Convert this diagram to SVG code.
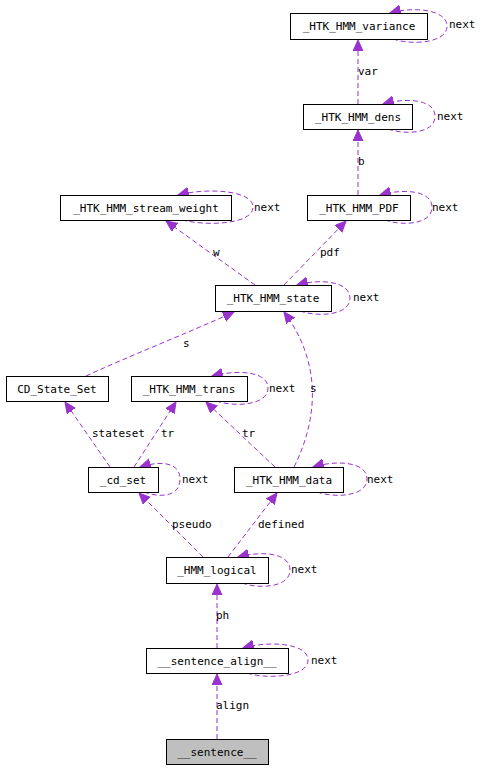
<svg xmlns="http://www.w3.org/2000/svg" width="483" height="769" viewBox="0 0 483 769">
<style>
text{font-family:"DejaVu Sans Mono","Liberation Mono",monospace;font-size:11px;fill:#000}
.n rect{fill:#fff;stroke:#000;stroke-width:1}
.n text{text-anchor:middle}
.e path{fill:none;stroke:#9a32cd;stroke-width:1;stroke-dasharray:5,3;marker-end:url(#ah)}
</style>
<defs>
<marker id="ah" markerUnits="userSpaceOnUse" markerWidth="14" markerHeight="12" refX="11" refY="5" orient="auto" viewBox="0 0 14 12">
<path d="M0,0 L11,5 L0,10 z" fill="#9a32cd" stroke="#9a32cd" stroke-width="1"/>
</marker>
</defs>
<rect width="483" height="769" fill="#fff"/>
<g id="edges" class="e">
<path d="M358,104 L358,40"/>
<path d="M358,195 L358,130"/>
<path d="M255,285 L166,221"/>
<path d="M284,285 L346,221"/>
<path d="M86,376 C120,360 190,332 234,312"/>
<path d="M294,467 C320,415 320,360 284,312"/>
<path d="M110,467 L65,402"/>
<path d="M134,467 L176,402"/>
<path d="M275,467 L206,402"/>
<path d="M203,557 L139,493"/>
<path d="M228,557 L277,493"/>
<path d="M217,648 L217,584"/>
<path d="M217,739 L217,674"/>
<path d="M393,39 C410,45 447,44 447,26 C447,10 415,6 390,13"/>
<path d="M388,129 C405,135 435,134 435,116 C435,100 408,97 383,104"/>
<path d="M182,220 C205,226 253,225 253,207 C253,191 210,187 178,195"/>
<path d="M385,220 C402,226 432,225 432,207 C432,191 405,188 380,195"/>
<path d="M300,311 C317,317 350,316 350,298 C350,282 322,278 297,285"/>
<path d="M216,401 C233,407 268,406 268,388 C268,372 240,369 212,376"/>
<path d="M144,492 C160,498 180,497 180,479 C180,463 162,460 140,467"/>
<path d="M317,492 C334,498 367,497 367,479 C367,463 340,459 313,467"/>
<path d="M242,583 C258,589 290,588 290,570 C290,554 265,550 238,557"/>
<path d="M247,673 C264,679 308,678 308,660 C308,644 272,640 243,648"/>
</g>
<g id="labels">
<text x="358" y="75">var</text>
<text x="358" y="165">b</text>
<text x="213" y="256">w</text>
<text x="320" y="256">pdf</text>
<text x="183" y="347">s</text>
<text x="310" y="392">s</text>
<text x="92" y="437">stateset</text>
<text x="161" y="437">tr</text>
<text x="242" y="437">tr</text>
<text x="172" y="528">pseudo</text>
<text x="258" y="528">defined</text>
<text x="216" y="619">ph</text>
<text x="216" y="709">align</text>
<text x="449" y="28">next</text>
<text x="437" y="120">next</text>
<text x="254" y="211">next</text>
<text x="432" y="211">next</text>
<text x="353" y="301">next</text>
<text x="269" y="392">next</text>
<text x="182" y="483">next</text>
<text x="367" y="483">next</text>
<text x="291" y="573">next</text>
<text x="311" y="664">next</text>
</g>
<g id="n_variance" class="n"><rect x="290.5" y="13.5" width="137" height="26"/><text x="359" y="30">_HTK_HMM_variance</text></g>
<g id="n_dens" class="n"><rect x="303.5" y="104.5" width="109" height="25"/><text x="358" y="121">_HTK_HMM_dens</text></g>
<g id="n_stream_weight" class="n"><rect x="60.5" y="195.5" width="171" height="25"/><text x="146" y="212">_HTK_HMM_stream_weight</text></g>
<g id="n_pdf" class="n"><rect x="307.5" y="195.5" width="103" height="25"/><text x="359" y="212">_HTK_HMM_PDF</text></g>
<g id="n_state" class="n"><rect x="215.5" y="285.5" width="116" height="26"/><text x="273" y="302">_HTK_HMM_state</text></g>
<g id="n_cd_state_set" class="n"><rect x="6.5" y="376.5" width="102" height="25"/><text x="57" y="393">CD_State_Set</text></g>
<g id="n_trans" class="n"><rect x="131.5" y="376.5" width="116" height="25"/><text x="189" y="393">_HTK_HMM_trans</text></g>
<g id="n_cd_set" class="n"><rect x="88.5" y="467.5" width="70" height="25"/><text x="123" y="484">_cd_set</text></g>
<g id="n_data" class="n"><rect x="234.5" y="467.5" width="109" height="25"/><text x="289" y="484">_HTK_HMM_data</text></g>
<g id="n_logical" class="n"><rect x="166.5" y="557.5" width="102" height="26"/><text x="217" y="574">_HMM_logical</text></g>
<g id="n_sentence_align" class="n"><rect x="146.5" y="648.5" width="142" height="25"/><text x="217" y="665">__sentence_align__</text></g>
<g id="n_sentence" class="n"><rect x="166.5" y="739.5" width="102" height="25" style="fill:#bfbfbf"/><text x="217" y="756">__sentence__</text></g>
</svg>
